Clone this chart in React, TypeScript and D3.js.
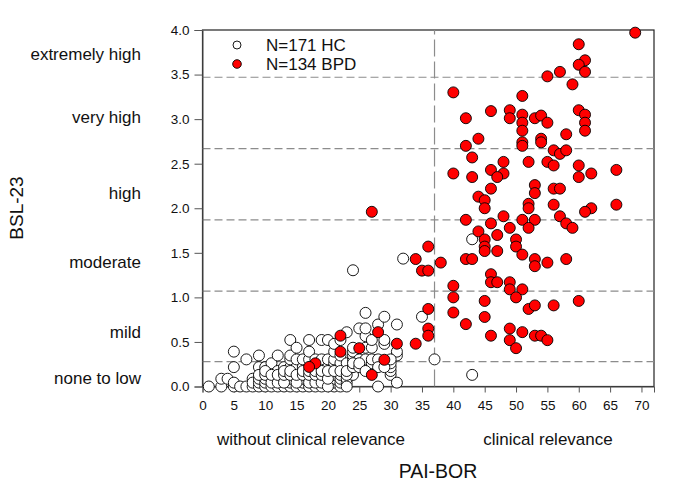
import React, { useEffect, useRef } from 'react';
import * as d3 from 'd3';

// HC: [PAI-BOR, BSL-23 item sum k] -> y = k / 23
const hcPoints: [number, number][] = [
    [1, 0], [3, 0], [3, 2], [4, 2], [5, 0], [5, 1], [5, 5], [5, 9], [6, 0], [7, 0], [7, 7],
    [8, 0], [8, 2], [8, 1], [9, 0], [9, 1], [9, 2], [9, 5], [9, 8], [10, 0], [10, 1], [10, 2], [10, 5],
    [11, 0], [11, 2], [11, 5], [11, 6], [12, 0], [12, 2], [12, 4], [12, 8], [13, 0], [13, 2], [13, 5],
    [14, 0], [14, 1], [14, 2], [14, 5], [14, 7], [14, 8], [14, 12], [15, 0], [15, 2], [15, 4], [15, 5], [15, 7], [15, 10],
    [16, 0], [16, 1], [16, 2], [16, 5], [16, 7], [17, 0], [17, 2], [17, 7], [17, 9], [17, 12],
    [18, 0], [18, 2], [18, 7], [19, 0], [19, 2], [19, 5], [19, 7], [19, 12], [20, 1], [20, 3], [20, 5], [20, 7], [20, 12],
    [21, 0], [21, 1], [21, 2], [21, 3], [21, 5], [21, 6], [21, 7], [21, 9], [21, 11],
    [22, 0], [22, 1], [22, 2], [22, 3], [22, 5], [22, 6], [22, 8], [22, 12], [23, 1], [23, 2], [23, 6], [23, 14],
    [24, 3], [24, 7], [24, 8], [24, 9], [24, 10], [24, 30], [25, 7], [25, 15],
    [26, 5], [26, 6], [26, 7], [26, 10], [26, 13], [26, 15], [26, 19], [27, 5], [27, 6], [27, 7], [27, 10], [27, 12],
    [28, 0], [28, 7], [28, 16], [29, 11], [29, 12], [29, 18], [30, 3], [30, 4], [30, 5], [30, 6],
    [31, 1], [31, 8], [31, 9], [31, 16], [32, 33], [35, 18], [37, 7], [43, 3], [43, 38],
    [9, 3], [10, 3], [10, 4], [11, 1], [11, 3], [12, 1], [12, 3], [13, 1], [13, 3], [13, 4], [14, 3], [14, 4],
    [15, 1], [15, 3], [16, 3], [16, 4], [17, 1], [17, 3], [17, 4], [18, 1], [18, 3], [18, 4], [19, 1], [19, 3], [19, 4],
    [20, 0], [20, 2], [20, 4], [21, 4], [22, 4], [23, 0], [23, 3], [23, 4], [24, 5], [24, 6], [25, 5], [25, 6],
    [26, 4], [28, 5], [29, 5], [30, 7]
];

// BPD: [PAI-BOR, BSL-23]
const bpdPoints: [number, number][] = [
    [69, 3.97], [60, 3.84], [61, 3.66], [60, 3.61], [61, 3.53], [57, 3.53], [55, 3.48], [59, 3.39], [40, 3.30], [51, 3.26],
    [46, 3.09], [49, 3.10], [60, 3.10], [42, 3.01], [49, 3.01], [51, 3.05], [51, 2.96], [53, 3.01], [54, 3.04], [55, 2.96],
    [61, 3.05], [61, 2.96], [61, 2.87], [51, 2.87], [58, 2.83], [44, 2.78], [54, 2.78], [54, 2.74], [51, 2.74], [51, 2.70],
    [42, 2.70], [56, 2.65], [57, 2.61], [58, 2.65], [43, 2.57], [48, 2.52], [52, 2.52], [55, 2.52], [56, 2.48], [60, 2.48],
    [40, 2.39], [46, 2.43], [48, 2.39], [47, 2.35], [43, 2.35], [60, 2.35], [62, 2.39], [66, 2.43], [46, 2.22], [53, 2.26],
    [53, 2.17], [56, 2.22], [57, 2.22], [44, 2.13], [45, 2.09], [52, 2.05], [52, 2.0], [56, 2.04], [62, 2.0], [66, 2.04],
    [45, 2.0], [61, 1.96], [42, 1.87], [48, 1.91], [51, 1.87], [53, 1.87], [57, 1.91], [46, 1.83], [52, 1.78], [49, 1.78],
    [58, 1.83], [59, 1.78], [44, 1.74], [47, 1.70], [45, 1.65], [45, 1.57], [45, 1.52], [50, 1.65], [50, 1.57], [47, 1.52],
    [51, 1.48], [38, 1.39], [42, 1.43], [43, 1.43], [53, 1.43], [53, 1.35], [55, 1.39], [58, 1.43], [46, 1.26], [46, 1.17],
    [47, 1.17], [49, 1.17], [49, 1.09], [51, 1.09], [50, 1.0], [40, 1.13], [40, 1.0], [40, 0.83], [45, 0.96], [45, 0.78],
    [60, 0.96], [52, 0.87], [53, 0.91], [56, 0.91], [42, 0.70], [46, 0.57], [49, 0.65], [49, 0.52], [50, 0.43], [51, 0.61],
    [53, 0.57], [54, 0.57], [55, 0.52], [27, 1.96], [36, 1.57], [34, 1.43], [35, 1.30], [36, 1.30], [36, 0.87], [36, 0.65],
    [36, 0.57], [34, 0.48], [31, 0.48], [28, 0.61], [22, 0.57], [22, 0.39], [25, 0.43], [29, 0.30], [27, 0.13], [18, 0.26],
    [17, 0.22]
];

const severityCutoffs = [0.28, 1.07, 1.87, 2.67, 3.47];
const severityLabels = ['none to low', 'mild', 'moderate', 'high', 'very high', 'extremely high'];
const severityLabelPos = [0.095, 0.61, 1.4, 2.17, 3.02, 3.73];
const clinicalCutoff = 37;
const xTicks = d3.range(0, 71, 5);
const yTicks = d3.range(0, 4.01, 0.5);
const legendLabels = ['N=171 HC', 'N=134 BPD'];

const W = 684;
const H = 487;
const FONT = 'Arial, "Liberation Sans", sans-serif';

const App: React.FC = () => {
    const svgRef = useRef<SVGSVGElement>(null);

    useEffect(() => {
        const svg = d3.select(svgRef.current);
        svg.selectAll('*').remove();

        const x = d3.scaleLinear().domain([0, 72]).range([202.5, 654]);
        const y = d3.scaleLinear().domain([0, 4]).range([386.5, 30]);

        // frame
        svg.append('rect')
            .attr('x', x(0)).attr('y', y(4))
            .attr('width', x(72) - x(0)).attr('height', y(0) - y(4))
            .attr('fill', 'none').attr('stroke', '#222').attr('stroke-width', 1.2);

        // severity cut-offs
        svg.selectAll('.cut')
            .data(severityCutoffs)
            .enter().append('line')
            .attr('x1', x(0)).attr('x2', x(72))
            .attr('y1', d => y(d)).attr('y2', d => y(d))
            .attr('stroke', '#8c8c8c').attr('stroke-width', 1.2)
            .attr('stroke-dasharray', '8,4');

        svg.append('line')
            .attr('x1', x(clinicalCutoff)).attr('x2', x(clinicalCutoff))
            .attr('y1', y(0)).attr('y2', y(4))
            .attr('stroke', '#8c8c8c').attr('stroke-width', 1.2)
            .attr('stroke-dasharray', '17,5');

        // axes
        const xAxis = svg.append('g')
            .attr('transform', `translate(0,${y(0)})`)
            .call(d3.axisBottom(x).tickValues(xTicks).tickSize(6).tickPadding(8).tickFormat(d3.format('d')));
        const yAxis = svg.append('g')
            .attr('transform', `translate(${x(0)},0)`)
            .call(d3.axisLeft(y).tickValues(yTicks).tickSize(8).tickPadding(5).tickFormat(d3.format('.1f')));
        [xAxis, yAxis].forEach(a => {
            a.select('.domain').attr('stroke', '#555');
            a.selectAll('line').attr('stroke', '#555');
            a.selectAll('text').style('font-family', FONT).style('font-size', '13.5px').attr('fill', '#111');
        });

        // points
        svg.append('g').selectAll('circle')
            .data(hcPoints)
            .enter().append('circle')
            .attr('cx', d => x(d[0])).attr('cy', d => y(d[1] / 23))
            .attr('r', 5.5)
            .attr('fill', '#fff').attr('stroke', '#000').attr('stroke-width', 0.9);

        svg.append('g').selectAll('circle')
            .data(bpdPoints)
            .enter().append('circle')
            .attr('cx', d => x(d[0])).attr('cy', d => y(d[1]))
            .attr('r', 5.5)
            .attr('fill', '#ff0000').attr('stroke', '#000').attr('stroke-width', 0.9);

        // severity labels
        svg.selectAll('.sev')
            .data(severityLabels)
            .enter().append('text')
            .attr('x', 141).attr('y', (d, i) => y(severityLabelPos[i]))
            .attr('dy', '0.35em')
            .attr('text-anchor', 'end')
            .style('font-family', FONT).style('font-size', '17px').attr('fill', '#111')
            .text(d => d);

        // legend
        const legend = svg.append('g').attr('transform', 'translate(237,45)');
        legend.append('circle').attr('cx', 0).attr('cy', 0).attr('r', 4)
            .attr('fill', '#fff').attr('stroke', '#000').attr('stroke-width', 0.9);
        legend.append('circle').attr('cx', 0).attr('cy', 19).attr('r', 4.3)
            .attr('fill', '#ff0000').attr('stroke', '#000').attr('stroke-width', 0.9);
        legend.selectAll('text')
            .data(legendLabels)
            .enter().append('text')
            .attr('x', 29).attr('y', (d, i) => i * 19)
            .attr('dy', '0.35em')
            .style('font-family', FONT).style('font-size', '17px').attr('fill', '#111')
            .text(d => d);

        // axis titles
        svg.append('text')
            .attr('x', 311).attr('y', 445)
            .attr('text-anchor', 'middle')
            .style('font-family', FONT).style('font-size', '17px').attr('fill', '#111')
            .text('without clinical relevance');
        svg.append('text')
            .attr('x', 548).attr('y', 445)
            .attr('text-anchor', 'middle')
            .style('font-family', FONT).style('font-size', '17px').attr('fill', '#111')
            .text('clinical relevance');
        svg.append('text')
            .attr('x', 438).attr('y', 477.5)
            .attr('text-anchor', 'middle')
            .style('font-family', FONT).style('font-size', '19.5px').attr('fill', '#111')
            .text('PAI-BOR');
        svg.append('text')
            .attr('transform', 'translate(23,208) rotate(-90)')
            .attr('text-anchor', 'middle')
            .style('font-family', FONT).style('font-size', '19px').attr('fill', '#111')
            .text('BSL-23');
    }, []);

    return (
        <svg
            ref={svgRef}
            width={W}
            height={H}
            style={{ position: 'absolute', left: 0, top: 0, background: '#fff' }}
        />
    );
};

export default App;
